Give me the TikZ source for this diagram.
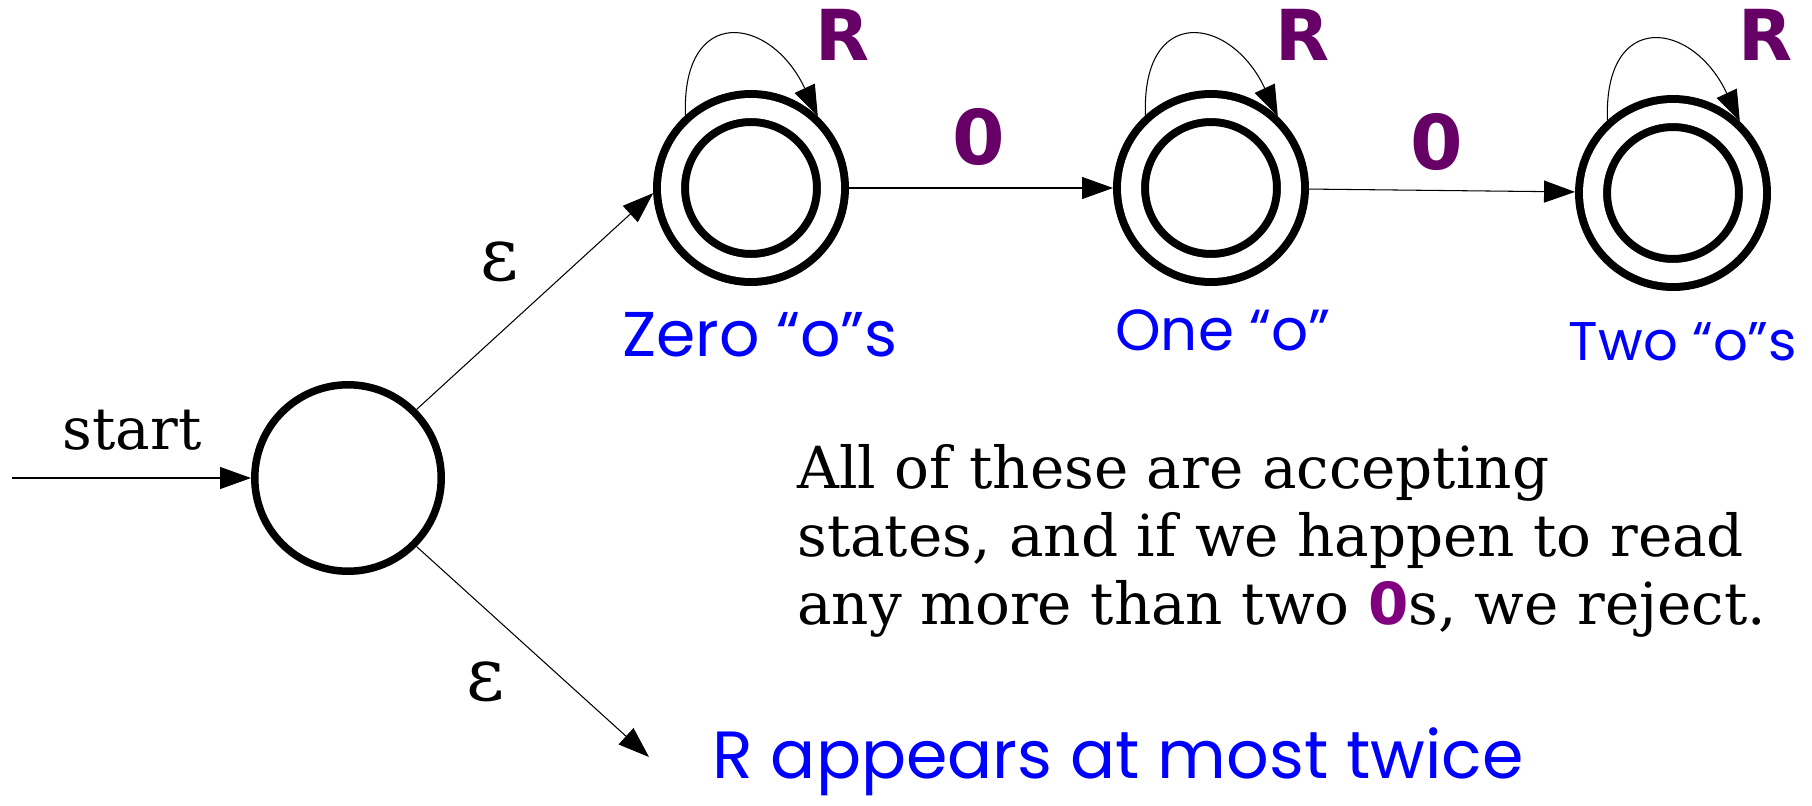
\documentclass[tikz,border=0pt]{standalone}
\usepackage{fontspec}
\setmainfont{DejaVu Serif}
\newfontfamily\handfont{Poppins}
\newfontfamily\symbfont{DejaVu Sans}
\usetikzlibrary{arrows.meta}
\definecolor{sympurple}{RGB}{102,0,102}
\definecolor{textpurple}{RGB}{128,0,128}
\definecolor{noteblue}{RGB}{0,0,255}

\begin{document}
\begin{tikzpicture}[
    x=0.02cm, y=-0.02cm,
    state/.style={circle, draw, line width=0.15cm, minimum size=3.73cm, inner sep=0pt},
    accept/.style={circle, draw, line width=0.16cm, double, double distance=0.40cm,
      minimum size=3.2cm, inner sep=0pt, outer sep=0.36cm},
    arr/.style={line width=0.6pt, -{Triangle[length=0.62cm, width=0.44cm]}},
    sym/.style={font=\symbfont\bfseries\fontsize{40}{48}\selectfont, text=sympurple},
    eps/.style={font=\fontsize{42}{50}\selectfont},
    note/.style={font=\handfont\fontsize{34}{40}\selectfont, text=noteblue}
  ]
  \useasboundingbox (0,0) rectangle (1812,805);
  \node[state] (q0) at (348,478) {};
  \node[accept] (zero) at (751,188) {};
  \node[accept] (one) at (1211,188) {};
  \node[accept] (two) at (1673,193) {};
  \coordinate (in) at (12,478);
  \coordinate (rest) at (649,757);
  \draw[arr] (in) -- (q0);
  \draw[arr] (q0.45) -- (zero.183);
  \draw[arr] (q0.-45) -- (rest);
  \draw[arr] (zero) -- (one);
  \draw[arr] (one) -- (two);
  \draw[arr] (zero.132) to[out=92, in=115, looseness=2.15] (zero.47);
  \draw[arr] (one.132) to[out=92, in=115, looseness=2.15] (one.47);
  \draw[arr] (two.132) to[out=92, in=115, looseness=2.15] (two.47);
  \node[font=\fontsize{33}{38}\selectfont] (lstart) at (132,430) {start};
  \node[eps] (e1) at (500,262) {ε};
  \node[eps] (e2) at (486,682) {ε};
  \node[sym, font=\symbfont\bfseries\fontsize{43}{50}\selectfont] (z1) at (979,137) {0};
  \node[sym, font=\symbfont\bfseries\fontsize{43}{50}\selectfont] (z2) at (1437,142) {0};
  \node[sym] (r0) at (843,35) {R};
  \node[sym] (r1) at (1303,35) {R};
  \node[sym] (r2) at (1766,35) {R};
  \node[note, font=\handfont\fontsize{36}{40}\selectfont] (n0) at (760,335) {Zero “o”s};
  \node[note, font=\handfont\fontsize{33}{40}\selectfont] (n1) at (1223,330) {One “o”};
  \node[note, font=\handfont\fontsize{31}{40}\selectfont] (n2) at (1683,342) {Two “o”s};
  \node[note, font=\handfont\fontsize{38}{44}\selectfont] (nr) at (1118,762) {R appears at most twice};
  \node[align=left, anchor=west, inner sep=0pt, font=\fontsize{33}{38.7}\selectfont]
    (txt) at (797,541) {All of these are accepting\\states, and if we happen to read\\any more than two {\symbfont\bfseries\color{textpurple}0}s, we reject.};
\end{tikzpicture}
\end{document}
